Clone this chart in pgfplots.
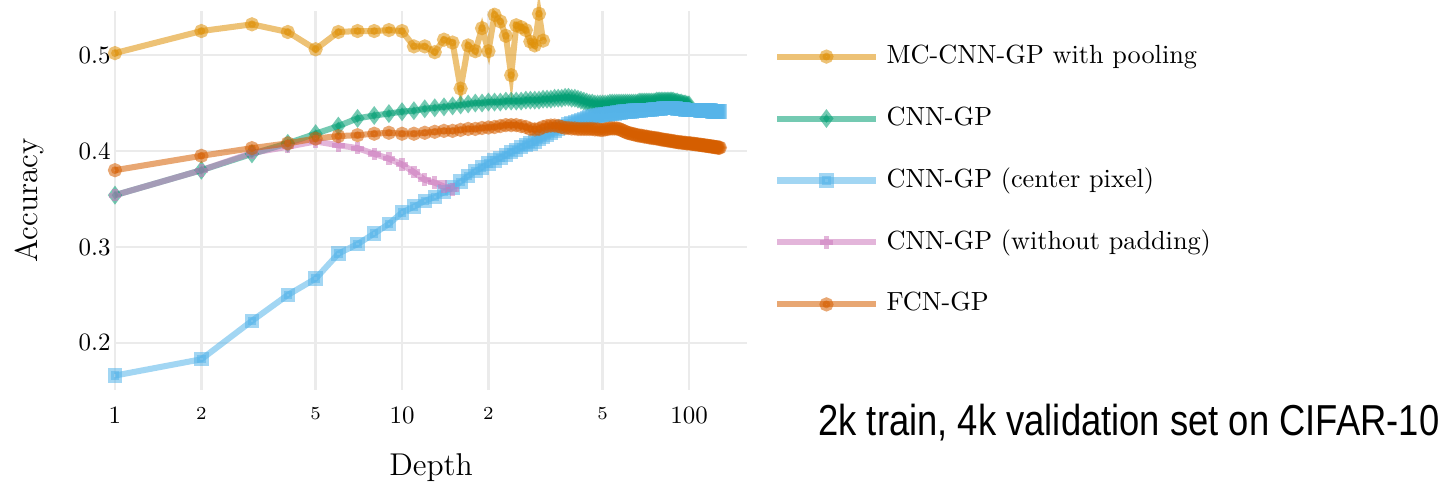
\documentclass[border=0pt]{standalone}
\usepackage{fontspec}
\usepackage{pgfplots}
\pgfplotsset{compat=1.18}
\newfontfamily\notefont[FakeStretch=0.84]{Liberation Sans}
\definecolor{cMC}{HTML}{DE8F05}
\definecolor{cCNN}{HTML}{029E73}
\definecolor{cCP}{HTML}{56B4E9}
\definecolor{cNP}{HTML}{CC78BC}
\definecolor{cFCN}{HTML}{D55E00}
\definecolor{gridc}{HTML}{EBEBEB}
\begin{document}
\begin{tikzpicture}
\begin{semilogxaxis}[
  at={(43.8pt,36.2pt)}, anchor=south west,
  scale only axis, width=240.8pt, height=144.4pt,
  xmin=1, xmax=159.3, ymin=0.151, ymax=0.546,
  axis line style={draw=none},
  major tick length=0pt, minor tick length=0pt,
  xtick={1,10,100}, xticklabels={1,10,100},
  extra x ticks={2,5,20,50}, extra x tick labels={2,5,2,5},
  extra x tick style={grid=major, tick label style={font=\scriptsize}},
  ytick={0.2,0.3,0.4,0.5}, yticklabels={0.2,0.3,0.4,0.5},
  minor xtick={},
  grid=major,
  major grid style={draw=gridc, line width=0.9pt},
  tick label style={font=\fontsize{9.5}{11}\selectfont},
  yticklabel style={inner xsep=1.5pt},
  xticklabel style={yshift=-3pt},
  xlabel={Depth}, ylabel={Accuracy},
  label style={font=\large},
  xlabel style={at={(axis description cs:0.5,-0.2043)}, anchor=center},
  ylabel style={at={(axis description cs:-0.1345,0.5)}, anchor=center},
  clip=false,
  every axis plot/.append style={line width=2.3pt, opacity=0.55},
  legend image code/.code={\draw[mark repeat=2,mark phase=2,#1] plot coordinates {(0pt,0pt) (18.75pt,0pt) (37.5pt,0pt)};},
  legend style={at={(rel axis cs:1.042,0.912)}, anchor=north west, draw=none, fill=none,
    font=\normalsize, row sep=14.6pt, column sep=3pt, inner sep=0pt,
    nodes={inner xsep=0pt, inner ysep=0pt, text height=7pt, text depth=2pt}},
  legend cell align=left,
]
\addplot[color=cMC, mark=*, mark size=1.5pt] coordinates {
(1,.502)(2,.525)(3,.532)(4,.524)(5,.506)(6,.524)(7,.525)(8,.525)(9,.526)(10,.525)
(11,.509)(12,.509)(13,.503)(14,.516)(15,.513)(16,.465)(17,.510)(18,.504)(19,.528)(20,.504)
(21,.542)(22,.535)(23,.520)(24,.479)(25,.531)(26,.529)(27,.526)(28,.514)(29,.510)(30,.543)(31,.515)};
\addlegendentry{MC-CNN-GP with pooling}
\addplot[color=cCNN, mark=diamond*, mark size=1.7pt] coordinates {
(1,.354)(2,.380)(3,.397)(4,.408)(5,.418)(6,.426)(7,.434)(8,.437)(9,.439)(10,.441)
(11,.442)(12,.444)(13,.445)(14,.446)(15,.447)(16,.448)(17,.449)(18,.450)(19,.450)(20,.451)
(21,.451)(22,.451)(23,.452)(24,.452)(25,.452)(26,.452)(27,.453)(28,.453)(29,.453)(30,.453)
(31,.454)(32,.454)(33,.454)(34,.455)(35,.455)(36,.455)(37,.456)(38,.456)(39,.455)(40,.455)
(41,.454)(42,.453)(43,.452)(44,.451)(45,.450)(46,.450)(47,.449)(48,.449)(49,.449)(50,.449)
(51,.449)(52,.449)(53,.450)(54,.450)(55,.450)(56,.450)(57,.450)(58,.450)(59,.450)(60,.450)
(61,.450)(62,.450)(63,.450)(64,.450)(65,.450)(66,.450)(67,.451)(68,.451)(69,.451)(70,.451)
(71,.451)(72,.451)(73,.451)(74,.451)(75,.451)(76,.451)(77,.452)(78,.452)(79,.452)(80,.452)
(81,.452)(82,.452)(83,.452)(84,.452)(85,.452)(86,.452)(87,.452)(88,.452)(89,.451)(90,.451)
(91,.451)(92,.450)(93,.450)(94,.450)(95,.449)(96,.449)(97,.449)(98,.448)(99,.448)(100,.448)};
\addlegendentry{CNN-GP}
\addplot[color=cCP, mark=square*, mark size=1.6pt] coordinates {
(1,.166)(2,.183)(3,.223)(4,.250)(5,.267)(6,.293)(7,.303)(8,.314)(9,.324)(10,.336)
(11,.342)(12,.348)(13,.352)(14,.357)(15,.362)(16,.368)(17,.374)(18,.379)(19,.383)(20,.387)
(21,.390)(22,.393)(23,.396)(24,.399)(25,.401)(26,.404)(27,.406)(28,.408)(29,.410)(30,.413)
(31,.415)(32,.417)(33,.419)(34,.421)(35,.423)(36,.425)(37,.426)(38,.428)(39,.429)(40,.430)
(41,.431)(42,.432)(43,.433)(44,.434)(45,.435)(46,.436)(47,.436)(48,.437)(49,.437)(50,.438)
(51,.438)(52,.438)(53,.439)(54,.439)(55,.439)(56,.440)(57,.440)(58,.440)(59,.441)(60,.441)
(61,.441)(62,.441)(63,.441)(64,.442)(65,.442)(66,.442)(67,.442)(68,.442)(69,.443)(70,.443)
(71,.443)(72,.443)(73,.443)(74,.443)(75,.444)(76,.444)(77,.444)(78,.444)(79,.444)(80,.444)
(81,.445)(82,.445)(83,.445)(84,.445)(85,.445)(86,.445)(87,.445)(88,.445)(89,.445)(90,.445)
(91,.444)(92,.444)(93,.444)(94,.444)(95,.444)(96,.444)(97,.443)(98,.443)(99,.443)(100,.443)
(101,.443)(102,.443)(103,.443)(104,.443)(105,.443)(106,.443)(107,.443)(108,.443)(109,.442)(110,.442)
(111,.442)(112,.442)(113,.442)(114,.442)(115,.442)(116,.442)(117,.442)(118,.442)(119,.442)(120,.441)
(121,.441)(122,.441)(123,.441)(124,.441)(125,.441)(126,.441)(127,.441)(128,.441)};
\addlegendentry{CNN-GP (center pixel)}
\addplot[color=cNP, mark=+, mark size=2.4pt, mark options={line width=2pt}] coordinates {
(1,.354)(2,.380)(3,.398)(4,.4045)(5,.410)(6,.406)(7,.403)(8,.397)(9,.392)(10,.386)
(11,.378)(12,.370)(13,.367)(14,.363)(15,.360)};
\addlegendentry{CNN-GP (without padding)}
\addplot[color=cFCN, mark=*, mark size=1.5pt] coordinates {
(1,.380)(2,.395)(3,.403)(4,.408)(5,.413)(6,.4155)(7,.4165)(8,.418)(9,.419)(10,.418)
(11,.418)(12,.419)(13,.420)(14,.421)(15,.421)(16,.422)(17,.423)(18,.423)(19,.424)(20,.4245)
(21,.425)(22,.426)(23,.427)(24,.427)(25,.427)(26,.426)(27,.425)(28,.423)(29,.4225)(30,.423)
(31,.425)(32,.426)(33,.4265)(34,.4265)(35,.426)(36,.425)(37,.424)(38,.424)(39,.4235)(40,.4235)
(41,.423)(42,.423)(43,.423)(44,.423)(45,.423)(46,.423)(47,.4225)(48,.4225)(49,.422)(50,.422)
(51,.4225)(52,.423)(53,.4235)(54,.4235)(55,.4235)(56,.4235)(57,.423)(58,.422)(59,.421)(60,.420)
(61,.419)(62,.4185)(63,.418)(64,.4175)(65,.417)(66,.4165)(67,.416)(68,.416)(69,.4155)(70,.415)
(71,.415)(72,.4145)(73,.414)(74,.414)(75,.4135)(76,.4135)(77,.413)(78,.413)(79,.4125)(80,.412)
(81,.412)(82,.4115)(83,.4115)(84,.411)(85,.411)(86,.4105)(87,.4105)(88,.410)(89,.410)(90,.4095)
(91,.4095)(92,.409)(93,.409)(94,.409)(95,.4085)(96,.4085)(97,.4085)(98,.408)(99,.408)(100,.408)
(101,.408)(102,.4075)(103,.4075)(104,.4075)(105,.407)(106,.407)(107,.407)(108,.4065)(109,.4065)(110,.4065)
(111,.406)(112,.406)(113,.406)(114,.4055)(115,.4055)(116,.4055)(117,.405)(118,.405)(119,.405)(120,.4045)
(121,.4045)(122,.4045)(123,.404)(124,.404)(125,.404)(126,.4035)(127,.4035)(128,.4035)};
\addlegendentry{FCN-GP}
\node[anchor=base west, inner sep=0pt, font=\notefont\fontsize{16.5}{18}\selectfont] at (rel axis cs:1.112,-0.121) {2k train, 4k validation set on CIFAR-10};
\end{semilogxaxis}
\pgfresetboundingbox
\path (0,0) rectangle (551.2pt,184.75pt);
\end{tikzpicture}
\end{document}
